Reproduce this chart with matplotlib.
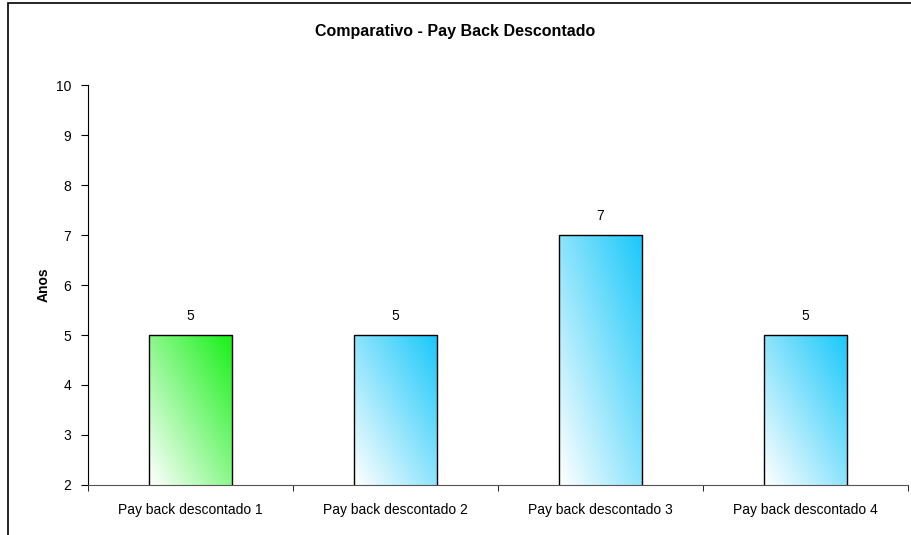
import numpy as np
import matplotlib
matplotlib.use('Agg')
import matplotlib.pyplot as plt
from matplotlib.patches import Rectangle
from matplotlib.colors import LinearSegmentedColormap

plt.rcParams['font.family'] = ['Liberation Sans', 'DejaVu Sans']

# data
categories = ['Pay back descontado 1', 'Pay back descontado 2',
              'Pay back descontado 3', 'Pay back descontado 4']
anos = [5, 5, 7, 5]
bar_colors = ['#18f018', '#1ac8fa', '#1ac8fa', '#1ac8fa']

fig = plt.figure(figsize=(9.11, 5.35), dpi=100)
ax = fig.add_axes([0.0966, 0.0935, 0.9001, 0.7475])

x = np.arange(len(categories))
bars = ax.bar(x, anos, width=0.405, bottom=0, color='none',
              edgecolor='black', linewidth=1.0, zorder=3)

ax.set_ylim(2, 10)
ax.set_xlim(-0.5, len(categories) - 0.5)

# diagonal gradient fill (white bottom-left -> colour top-right)
u = np.linspace(0, 1, 100)
uu, vv = np.meshgrid(u, u)
grad = (uu + vv) / 2.0
for b, c, val in zip(bars, bar_colors, anos):
    cmap = LinearSegmentedColormap.from_list('g', ['#ffffff', c])
    x0 = b.get_x()
    w = b.get_width()
    y0 = ax.get_ylim()[0]
    y1 = b.get_height()
    im = ax.imshow(grad, cmap=cmap, origin='lower', aspect='auto',
                   extent=[x0, x0 + w, y0, y1], zorder=2, vmin=0, vmax=1)
    im.set_clip_path(b)
    ax.text(x0 + w / 2, y1 + 0.25, str(val),
            ha='center', va='bottom', fontsize=10)

ax.set_xlim(-0.5, len(categories) - 0.5)
ax.set_ylim(2, 10)

ax.set_xticks(x)
ax.set_xticklabels(categories, fontsize=10)
ax.tick_params(axis='x', which='major', length=0, pad=13)
ax.set_xticks(np.arange(-0.5, len(categories)), minor=True)
ax.tick_params(axis='x', which='minor', length=4, direction='out')
ax.set_yticks(range(2, 11))
ax.tick_params(axis='y', labelsize=10, length=5, direction='out', pad=7)

for s in ['top', 'right']:
    ax.spines[s].set_visible(False)
ax.spines['bottom'].set_color('#555555')

ax.set_ylabel('Anos', fontsize=10, fontweight='bold', labelpad=4)
fig.text(0.5, 0.942, 'Comparativo - Pay Back Descontado', ha='center',
         va='center', fontsize=11.5, fontweight='bold')

# chart area border (only left/top visible in crop)
fig.add_artist(Rectangle((8 / 911, -0.2), 1.2, 1.2 - 2.5 / 535,
                         transform=fig.transFigure, fill=False,
                         edgecolor='black', linewidth=1.2))

fig.savefig('out.png', dpi=100)
